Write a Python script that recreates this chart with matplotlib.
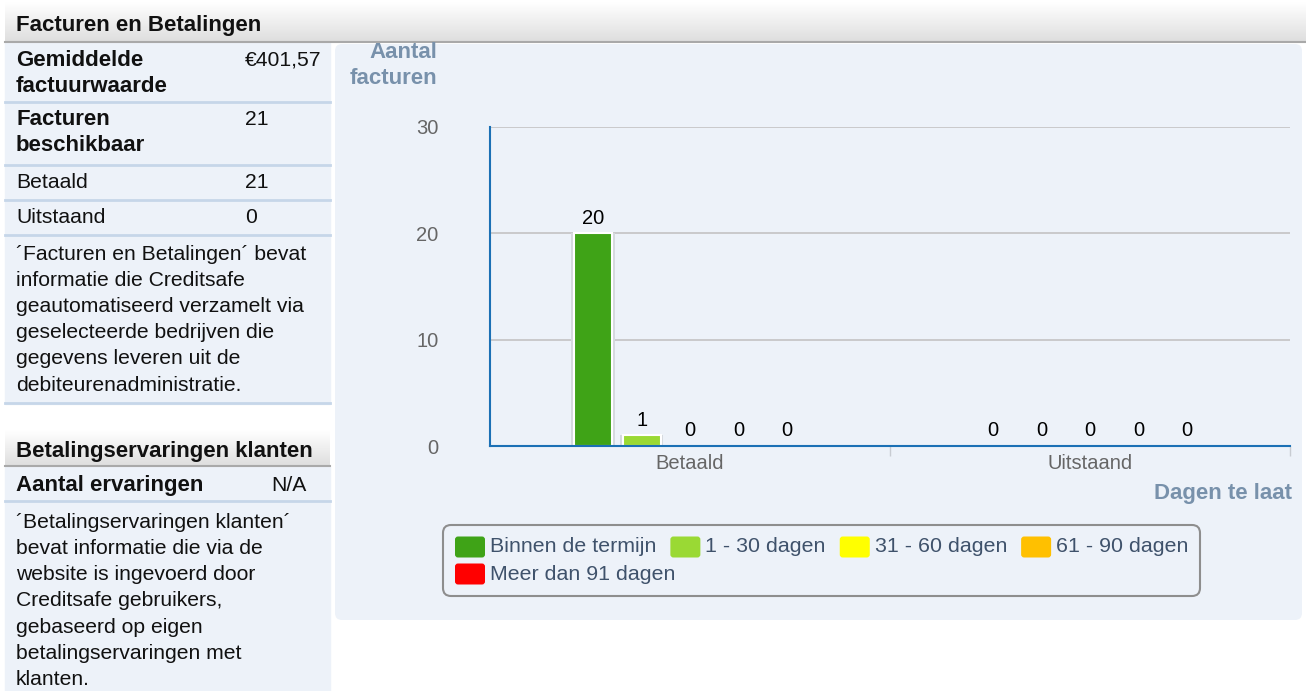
import matplotlib.pyplot as plt
import numpy as np
from matplotlib.patches import Rectangle, FancyBboxPatch
from matplotlib.colors import LinearSegmentedColormap

plt.rcParams['font.family'] = ['Liberation Sans', 'DejaVu Sans']

# data
categories = ["Betaald", "Uitstaand"]
series_names = ["Binnen de termijn", "1 - 30 dagen", "31 - 60 dagen",
                "61 - 90 dagen", "Meer dan 91 dagen"]
series_colors = ["#3fa317", "#9ad934", "#ffff00", "#ffc000", "#ff0000"]
betaald = [20, 1, 0, 0, 0]
uitstaand = [0, 0, 0, 0, 0]
yticks = [0, 10, 20, 30]

table_labels = [["Gemiddelde", "factuurwaarde"], ["Facturen", "beschikbaar"],
                ["Betaald"], ["Uitstaand"]]
table_values = ["€401,57", "21", "21", "0"]
table_bold = [True, True, False, False]

info_text_1 = ["´Facturen en Betalingen´ bevat", "informatie die Creditsafe",
               "geautomatiseerd verzamelt via", "geselecteerde bedrijven die",
               "gegevens leveren uit de", "debiteurenadministratie."]
info_text_2 = ["´Betalingservaringen klanten´", "bevat informatie die via de",
               "website is ingevoerd door", "Creditsafe gebruikers,",
               "gebaseerd op eigen", "betalingservaringen met", "klanten."]

W, H = 1306, 691
FS = 15.2
FSB = 16
panel_bg = '#edf2f9'
title_col = '#7891ab'

fig = plt.figure(figsize=(W / 100, H / 100), dpi=100)
bg = fig.add_axes([0, 0, 1, 1])
bg.set_xlim(0, W)
bg.set_ylim(H, 0)
bg.axis('off')

grad_cmap = LinearSegmentedColormap.from_list('hdr', ['#ffffff', '#dedede'])
grad = np.linspace(0, 1, 64).reshape(-1, 1)


def header(x0, x1, y0, y1, text):
    bg.imshow(grad, extent=(x0, x1, y1, y0), cmap=grad_cmap, aspect='auto', zorder=1)
    bg.plot([x0, x1], [y1, y1], color='#a9a9a9', lw=1.5, zorder=2)
    bg.text(16, (y0 + y1) / 2 + 3, text, fontsize=FSB, fontweight='bold',
            va='center', ha='left', color='#111111', zorder=3)


# top header bar
header(5, W, 2, 42, "Facturen en Betalingen")

# left table
bg.add_patch(Rectangle((5, 43), 325, 361, color=panel_bg, zorder=1))
row_tops = [43, 102, 165, 200, 235]
for r, (lab, val, bold) in enumerate(zip(table_labels, table_values, table_bold)):
    y0 = row_tops[r] + 17
    for k, line in enumerate(lab):
        bg.text(16, y0 + k * 26, line, fontsize=FSB if bold else FS, va='center', ha='left',
                fontweight='bold' if bold else 'normal', color='#111111', zorder=3)
    bg.text(245, y0, val, fontsize=FS, va='center', ha='left', color='#111111', zorder=3)
for y in [102, 165, 200, 235, 403]:
    bg.plot([5, 330], [y, y], color='#c6d6e9', lw=2, zorder=2)
for k, line in enumerate(info_text_1):
    bg.text(16, 254 + k * 26.2, line, fontsize=FS, va='center', ha='left',
            color='#111111', zorder=3)

# second section
header(5, 330, 430, 466, "Betalingservaringen klanten")
bg.add_patch(Rectangle((5, 467), 325, H - 467, color=panel_bg, zorder=1))
bg.text(16, 485, "Aantal ervaringen", fontsize=FSB, fontweight='bold',
        va='center', ha='left', color='#111111', zorder=3)
bg.text(271, 485, "N/A", fontsize=FS, va='center', ha='left', color='#111111', zorder=3)
bg.plot([5, 330], [501, 501], color='#c6d6e9', lw=2, zorder=2)
for k, line in enumerate(info_text_2):
    bg.text(16, 522 + k * 26.3, line, fontsize=FS, va='center', ha='left',
            color='#111111', zorder=3)

# chart panel
bg.add_patch(FancyBboxPatch((335, 44), 967, 576, boxstyle="round,pad=0,rounding_size=7",
                            facecolor=panel_bg, edgecolor='none', zorder=1))
bg.text(437, 52, "Aantal", fontsize=FSB, fontweight='bold', color=title_col,
        ha='right', va='center', zorder=3)
bg.text(437, 78, "facturen", fontsize=FSB, fontweight='bold', color=title_col,
        ha='right', va='center', zorder=3)
bg.text(1292, 493, "Dagen te laat", fontsize=FSB, fontweight='bold', color=title_col,
        ha='right', va='center', zorder=3)

# bar chart
ax = fig.add_axes([490 / W, (H - 446) / H, 800 / W, 319 / H])
ax.set_facecolor('none')
x = np.arange(len(categories))
step = 0.121
width = 0.095
for i, (name, col) in enumerate(zip(series_names, series_colors)):
    vals = [betaald[i], uitstaand[i]]
    pos = x + (i - 2) * step
    edges = [1.5 if v > 0 else 0 for v in vals]
    ax.bar(pos, vals, width + 0.014, color='#d5d9de', linewidth=0, zorder=2)
    ax.bar(pos, vals, width, color=col, edgecolor='white', linewidth=edges, zorder=3)
    for p, v in zip(pos, vals):
        ax.annotate(str(v), (p, v), xytext=(0, 4), textcoords='offset points',
                    ha='center', va='bottom', fontsize=14.5, color='black')

ax.set_xlim(-0.5, 1.5)
ax.set_ylim(0, 30)
ax.set_yticks(yticks)
ax.yaxis.grid(True, color='#c3c3c3', lw=1.2)
ax.set_axisbelow(True)
ax.set_xticks(x)
ax.set_xticklabels(categories)
ax.set_xticks([0.5, 1.5], minor=True)
ax.tick_params(axis='x', which='major', length=0, pad=6, labelsize=14.5, labelcolor='#666666')
ax.tick_params(axis='x', which='minor', length=7, color='#c8ccd2', width=1)
ax.tick_params(axis='y', length=0, pad=37, labelsize=14.5, labelcolor='#666666')
for s in ['top', 'right']:
    ax.spines[s].set_visible(False)
for s in ['left', 'bottom']:
    ax.spines[s].set_color('#1b70b5')
    ax.spines[s].set_linewidth(1.5)
    ax.spines[s].set_zorder(5)

# legend box with flowing items
bg.add_patch(FancyBboxPatch((443, 525), 757, 71, boxstyle="round,pad=0,rounding_size=8",
                            facecolor='none', edgecolor='#8e8e8e', lw=1.5, zorder=3))
renderer = fig.canvas.get_renderer()
lx, ly = 455, 547
for name, col in zip(series_names, series_colors):
    t = bg.text(lx + 35, ly, name, fontsize=15.4, color='#3f526b', va='center',
                ha='left', zorder=4)
    tw = t.get_window_extent(renderer).width
    if lx + 35 + tw > 1192:
        lx, ly = 455, ly + 27
        t.set_position((lx + 35, ly))
    bg.add_patch(FancyBboxPatch((lx, ly - 10.5), 30, 21, boxstyle="round,pad=0,rounding_size=3",
                                facecolor=col, edgecolor='none', zorder=4))
    lx = lx + 35 + tw + 14

fig.savefig('out.png', dpi=100)
